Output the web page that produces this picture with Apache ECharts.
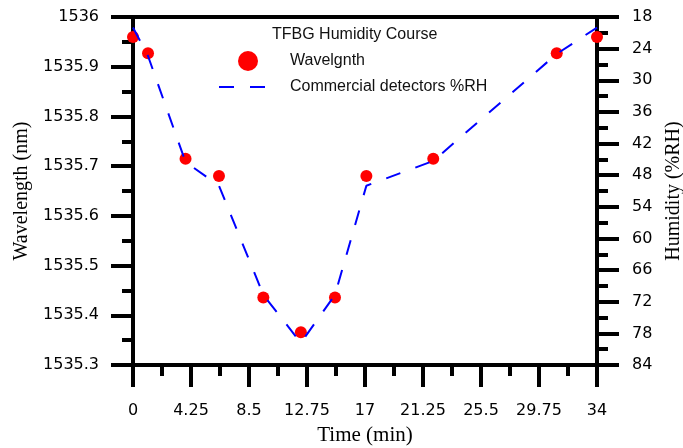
<!DOCTYPE html>
<html>
<head>
<meta charset="utf-8">
<title>TFBG Humidity Course</title>
<script src="https://cdn.jsdelivr.net/npm/echarts@6/dist/echarts.min.js"></script>
<style>
  html, body { margin: 0; padding: 0; background: #fff; }
  #chart { width: 683px; height: 448px; }
</style>
</head>
<body>
<div id="chart"></div>
<script>
// Sampling times of the humidity run (minutes)
const timeMin = [0, 1.1, 3.85, 6.3, 9.55, 12.3, 14.8, 17.1, 22, 31.05, 34];
// TFBG resonance wavelength at each sample (nm)
const wavelengthNm = [1535.96, 1535.927, 1535.715, 1535.68, 1535.436, 1535.366, 1535.436, 1535.68, 1535.715, 1535.927, 1535.96];
// Reading of the commercial humidity detector (%RH)
const humidityRH = [20, 25.4, 45.5, 50, 70.7, 79.8, 70.7, 50, 45.3, 25, 20];

// Axis ranges and tick steps
const timeAxis = { min: 0, max: 34, step: 4.25 };
const wavelengthAxis = { min: 1535.3, max: 1536, step: 0.1 };
const humidityAxis = { min: 18, max: 84, step: 6 };

const seriesNames = ['Wavelgnth', 'Commercial detectors %RH'];
const legendTitle = 'TFBG Humidity Course';

const tickFont = 'DejaVu Sans';
const sansFont = 'Liberation Sans, Arial, sans-serif';
const serifFont = 'Liberation Serif, Times New Roman, serif';

// Legend glyph for the detector curve: two dashes of the line pattern
const dashIcon = 'path://M0,0h15v2h-15z M31,0h15v2h-15z';

const chart = echarts.init(document.getElementById('chart'));

const axisCommon = {
  axisLine: { show: true, lineStyle: { color: '#000', width: 4 } },
  axisTick: { show: true, inside: false, length: 22, lineStyle: { color: '#000', width: 4 } },
  minorTick: { show: true, splitNumber: 2, length: 11, lineStyle: { color: '#000', width: 4 } },
  splitLine: { show: false },
  minorSplitLine: { show: false },
  nameLocation: 'middle',
  nameTextStyle: { fontFamily: serifFont, fontSize: 20, color: '#000' }
};

chart.setOption({
  animation: false,
  backgroundColor: '#fff',
  title: {
    text: legendTitle,
    left: 272,
    top: 27,
    padding: 0,
    textStyle: { fontFamily: sansFont, fontSize: 16, fontWeight: 'normal', color: '#111' }
  },
  legend: [
    {
      data: [seriesNames[0]],
      left: 238,
      top: 51,
      padding: 0,
      itemWidth: 20,
      itemHeight: 20,
      icon: 'circle',
      formatter: name => '{g|}' + name,
      textStyle: { fontFamily: sansFont, fontSize: 16, color: '#111', rich: { g: { width: 27 } } }
    },
    {
      data: [{ name: seriesNames[1], icon: dashIcon }],
      left: 219,
      top: 79,
      padding: 0,
      itemWidth: 46,
      itemHeight: 14,
      formatter: name => '{g|}' + name,
      textStyle: { fontFamily: sansFont, fontSize: 16, color: '#111', rich: { g: { width: 20 } } }
    }
  ],
  grid: {
    left: 133, right: 86, top: 17, bottom: 83,
    outerBoundsMode: 'none',
    containLabel: false,
    show: true, borderColor: '#000', borderWidth: 4, backgroundColor: 'transparent'
  },
  xAxis: Object.assign({}, axisCommon, {
    type: 'value',
    min: timeAxis.min, max: timeAxis.max, interval: timeAxis.step,
    name: 'Time (min)',
    nameGap: 60,
    nameTextStyle: { fontFamily: serifFont, fontSize: 21, color: '#000' },
    axisLabel: { fontFamily: tickFont, fontSize: 16, color: '#000', margin: 38 }
  }),
  yAxis: [
    Object.assign({}, axisCommon, {
      type: 'value',
      position: 'left',
      min: wavelengthAxis.min, max: wavelengthAxis.max, interval: wavelengthAxis.step,
      name: 'Wavelength (nm)',
      nameGap: 99,
      nameRotate: 90,
      axisLabel: {
        fontFamily: tickFont, fontSize: 16, color: '#000', margin: 34,
        formatter: v => String(parseFloat(v.toFixed(1)))
      }
    }),
    Object.assign({}, axisCommon, {
      type: 'value',
      position: 'right',
      inverse: true,
      min: humidityAxis.min, max: humidityAxis.max, interval: humidityAxis.step,
      name: 'Humidity (%RH)',
      nameGap: 66,
      nameRotate: 90,
      axisLabel: { fontFamily: tickFont, fontSize: 16, color: '#000', margin: 35 }
    })
  ],
  series: [
    {
      name: seriesNames[0],
      type: 'scatter',
      yAxisIndex: 0,
      symbol: 'circle',
      symbolSize: 12,
      itemStyle: { color: '#ff0000', opacity: 1 },
      data: timeMin.map((t, i) => [t, wavelengthNm[i]]),
      z: 2
    },
    {
      name: seriesNames[1],
      type: 'line',
      yAxisIndex: 1,
      symbol: 'none',
      showSymbol: false,
      itemStyle: { color: '#0000ff' },
      lineStyle: { color: '#0000ff', width: 2, type: [15, 16] },
      data: timeMin.map((t, i) => [t, humidityRH[i]]),
      z: 3
    }
  ]
});
</script>
</body>
</html>
